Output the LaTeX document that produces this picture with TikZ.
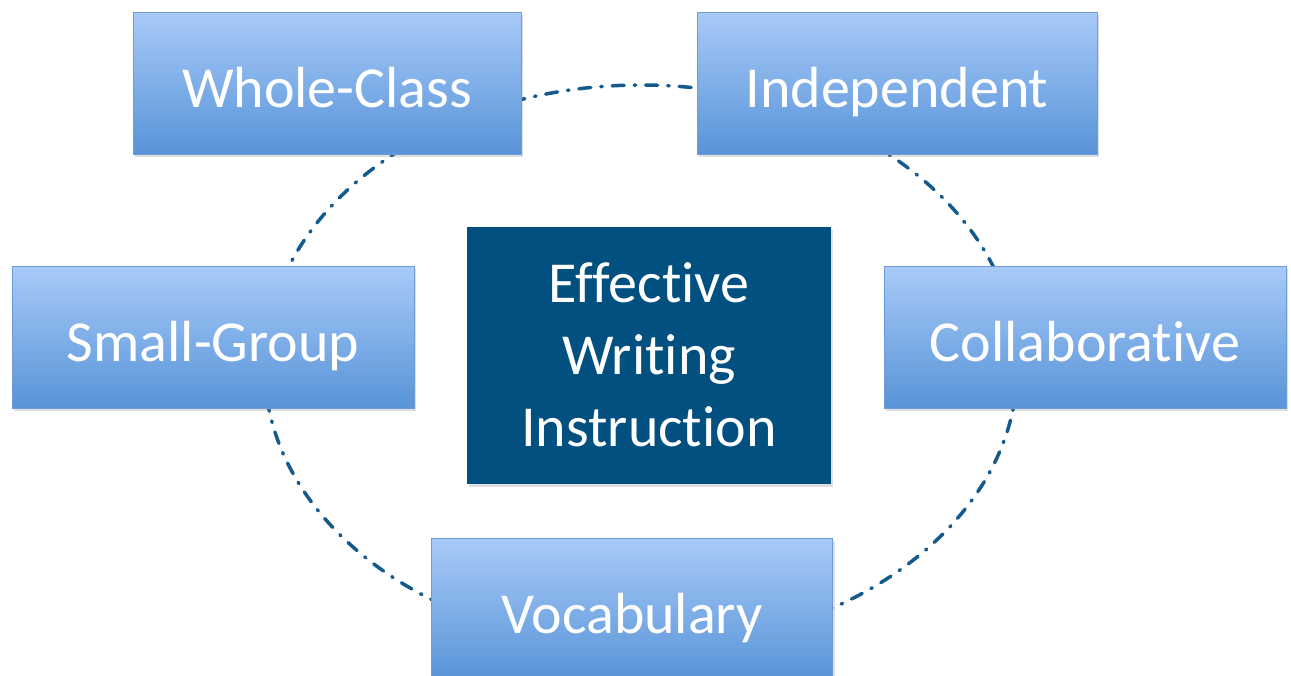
\documentclass[tikz,border=0pt]{standalone}
\usepackage{fontspec}
\setmainfont[Ligatures=NoCommon]{Carlito}
\usetikzlibrary{shapes.geometric,shadows}
\definecolor{boxtop}{RGB}{168,202,248}
\definecolor{boxbot}{RGB}{88,148,216}
\definecolor{boxline}{RGB}{110,155,210}
\definecolor{ctrblue}{RGB}{1,80,128}
\definecolor{cycblue}{RGB}{20,90,140}
\tikzset{
  kindbox/.style={rectangle, draw=boxline, line width=1pt, top color=boxtop, bottom color=boxbot,
    minimum height=142pt, text=white, font=\fontsize{58}{70}\selectfont,
    text height=50pt, text depth=2pt,
    drop shadow={opacity=0.25, shadow xshift=2pt, shadow yshift=-3pt}},
  ctrbox/.style={rectangle, fill=ctrblue, minimum width=364pt, minimum height=257pt, text=white,
    align=center, font=\fontsize{58}{72}\selectfont,
    drop shadow={opacity=0.25, shadow xshift=2pt, shadow yshift=-3pt}},
  cycle/.style={ellipse, draw=cycblue, line width=3.5pt, line cap=round,
    dash pattern=on 12pt off 10pt on 1.5pt off 10pt, inner sep=0pt}
}
\begin{document}
\begin{tikzpicture}[x=1pt,y=-1pt]
                \useasboundingbox (0,0) rectangle (1291,675);
                \node[cycle, minimum width=753pt, minimum height=562pt] (C) at (641,366) {};
                \node[kindbox, minimum width=388pt] (WC) at (327,83) {Whole-Class};
                \node[kindbox, minimum width=400pt] (Ind) at (897,83) {Independent};
                \node[kindbox, minimum width=402pt] (SG) at (213,337) {Small-Group};
                \node[kindbox, minimum width=402pt] (Col) at (1085,337) {Collaborative};
                \node[kindbox, minimum width=401pt] (Voc) at (632,609) {Vocabulary};
                \node[ctrbox, text depth=0pt] (EWI) at (649,355) {Effective\\Writing\\Instruction};
            \end{tikzpicture}
\end{document}
